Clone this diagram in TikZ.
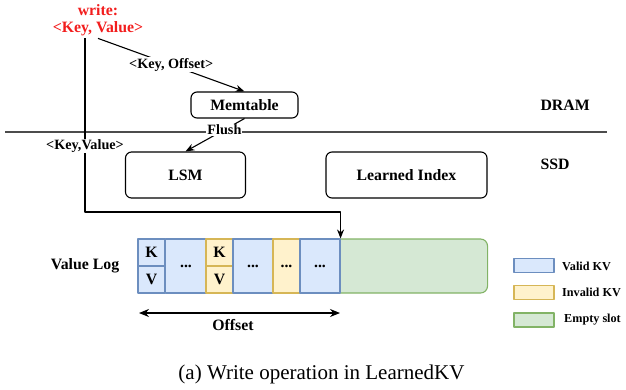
\documentclass[tikz,border=0pt]{standalone}
\usepackage{fontspec}
\setmainfont{Liberation Serif}
\usetikzlibrary{arrows.meta}
\definecolor{validF}{HTML}{DAE8FC} \definecolor{validD}{HTML}{6C8EBF}
\definecolor{invalidF}{HTML}{FFF2CC} \definecolor{invalidD}{HTML}{D6B656}
\definecolor{emptyF}{HTML}{D5E8D4} \definecolor{emptyD}{HTML}{82B366}
\definecolor{wred}{HTML}{F21D1D}
\begin{document}
\begin{tikzpicture}[x=1pt, y=-1pt, line join=round, >={Stealth[length=9pt,width=7pt]},
	big/.style={font=\fontsize{15.8}{18}\selectfont\bfseries},
	small/.style={font=\fontsize{14.2}{16}\selectfont\bfseries},
	legtext/.style={font=\fontsize{12.2}{14}\selectfont\bfseries, anchor=west, inner sep=0pt},
	box/.style={draw, rounded corners=6pt, line width=1.1pt, big},
	lbl/.style={small, fill=white, inner sep=1pt},
	cell/.style={draw, line width=1.1pt, inner sep=0pt, big, minimum width=27pt, minimum height=27pt},
	valid/.style={cell, fill=validF, draw=validD},
	invalid/.style={cell, fill=invalidF, draw=invalidD},
	empty/.style={cell, fill=emptyF, draw=emptyD},
	conn/.style={line width=1.1pt}]
	\useasboundingbox (0,0) rectangle (626,389);
	% DRAM / SSD
	\draw[line width=1.6pt, black!70] (5,132) -- (607,132);
	\node[big, anchor=west] (dram) at (537,105) {DRAM};
	\node[big, anchor=west] (ssd) at (537,164) {SSD};
	% request
	\node[big, text=wred] (wr) at (98,10) {write:};
	\node[big, text=wred, inner sep=2pt] (kv) at (98,29) {<Key, Value>};
	\node[box, minimum width=107pt, minimum height=26pt] (mem) at (244.5,105) {Memtable};
	\node[box, minimum width=120pt, minimum height=46pt] (lsm) at (185.5,175) {LSM};
	\node[box, minimum width=161pt, minimum height=46pt] (li) at (406.5,175) {Learned Index};
	% value log
	\node[big] (vl) at (85,266) {Value Log};
	\node[empty, rounded corners=7pt, minimum width=154pt, minimum height=54pt, anchor=west] (slot) at (333,266) {};
	\node[valid] (k1) at (151.5,252.5) {K};
	\node[valid] (v1) at (151.5,279.5) {V};
	\node[valid, minimum width=41pt, minimum height=54pt] (d1) at (186,266) {...};
	\node[invalid] (k2) at (219.5,252.5) {K};
	\node[invalid] (v2) at (219.5,279.5) {V};
	\node[valid, minimum width=40pt, minimum height=54pt] (d2) at (253,266) {...};
	\node[invalid, minimum width=27pt, minimum height=54pt] (d3) at (286.5,266) {...};
	\node[valid, minimum width=40pt, minimum height=54pt] (d4) at (320,266) {...};
	\coordinate (ofsl) at (139,313);
	\coordinate (ofsr) at (340,313);
	\draw[conn, {Stealth[length=10pt,width=8pt]}-{Stealth[length=10pt,width=8pt]}] (ofsl) -- (ofsr);
	\node[big] (ofs) at (233,325) {Offset};
	% connectors
	\coordinate (turn) at (85,212);
	\draw[conn, ->] (kv.south) -- node[lbl]{<Key, Offset>} (mem.north);
	\draw[conn, ->] (mem.south) -- node[lbl, pos=0.34]{Flush} (lsm.north);
	\draw[conn, ->] (kv.south -| turn) -- node[lbl, pos=0.62]{<Key,Value>} (turn) -| (d4.north east);
	% legend
	\node[valid, minimum width=40pt, minimum height=14pt] (lg1) at (534,265.5) {};
	\node[invalid, minimum width=40pt, minimum height=14pt] (lg2) at (534,292.5) {};
	\node[empty, minimum width=40pt, minimum height=14pt] (lg3) at (534,320) {};
	\node[legtext] (t1) at (562,266) {Valid KV};
	\node[legtext] (t2) at (562,292.5) {Invalid KV};
	\node[legtext] (t3) at (564,319.5) {Empty slot};
	\node[font=\fontsize{21}{24}\selectfont] (cap) at (321.5,374) {(a) Write operation in LearnedKV};
\end{tikzpicture}
\end{document}
